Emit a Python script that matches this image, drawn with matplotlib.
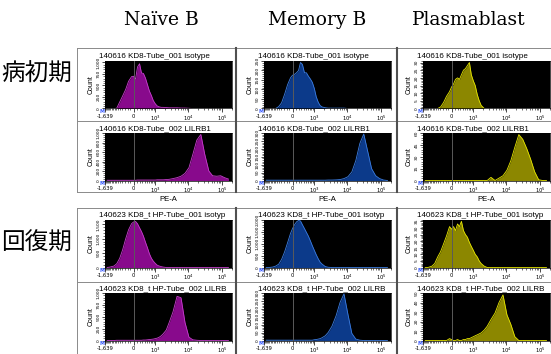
import numpy as np
import matplotlib
matplotlib.use('Agg')
import matplotlib.pyplot as plt
from matplotlib.lines import Line2D
from matplotlib.ticker import FixedLocator, FuncFormatter, MultipleLocator, AutoMinorLocator

# PE-A channel positions shared by every histogram
pe_a = [-1400, -1150, -850, -675, -520, -390, -270, -165, -65, 0, 65, 130, 200, 270,
        345, 430, 520, 620, 735, 855, 1000, 1150, 1340, 1540, 1770, 2200, 2700, 3500,
        4650, 6100, 8000, 10500, 13700, 18000, 23700, 31000, 41000, 53000, 70000,
        92000, 120000, 157000]

# 病初期 (140616)
naive_iso_1 = [0, 0, 0, 5, 140, 270, 410, 590, 690, 700, 640, 900, 970, 770, 760, 660,
               520, 380, 280, 170, 100, 55, 35, 25, 25, 20, 15, 15, 15, 10, 10, 5,
               0, 0, 0, 0, 0, 0, 0, 0, 0, 0]
naive_lilrb1_1 = [5, 5, 5, 5, 5, 5, 5, 5, 5, 5, 5, 10, 10, 10, 10, 10, 10, 10, 10, 10,
                  10, 15, 15, 15, 15, 20, 25, 40, 60, 90, 150, 270, 550, 850, 970, 550,
                  200, 100, 90, 100, 60, 30]
memory_iso_1 = [0, 0, 0, 0, 10, 30, 75, 125, 162, 175, 180, 188, 200, 242, 232, 188,
                188, 170, 155, 138, 105, 62, 32, 15, 8, 4, 2, 2, 2, 2, 2,
                0, 0, 0, 0, 0, 0, 0, 0, 0, 0, 0]
memory_lilrb1_1 = [2, 2, 2, 2, 2, 2, 2, 2, 2, 2, 2, 2, 2, 2, 2, 2, 2, 2, 2, 2, 2, 2,
                   2, 2, 2, 2, 3, 3, 4, 6, 12, 24, 54, 126, 234, 294, 180, 75, 30,
                   12, 3, 0]
plasma_iso_1 = [0, 0, 0, 0, 0, 1, 4, 8, 11, 14, 16, 19, 20, 19, 22, 25, 26, 28, 30,
                22, 18, 15, 9, 5, 2, 0, 0, 0, 0, 0, 0, 0, 0, 0, 0, 0, 0, 0, 0, 0, 0, 0]
plasma_lilrb1_1 = [0, 0, 0, 0, 0, 0, 0, 0, 0, 0, 0, 0, 0, 0, 0, 0, 0, 0, 0, 0, 0, 0,
                   0, 0, 0, 0, 0, 4, 0, 3, 6, 13, 25, 42, 58, 52, 40, 27, 11, 1, 0, 0]

# 回復期 (140623)
naive_iso_2 = [0, 15, 50, 130, 320, 610, 990, 1310, 1520, 1580, 1600, 1520, 1380, 1250,
               1090, 880, 690, 480, 320, 220, 140, 80, 50, 30, 15,
               0, 0, 0, 0, 0, 0, 0, 0, 0, 0, 0, 0, 0, 0, 0, 0, 0]
naive_lilrb1_2 = [0, 0, 0, 5, 5, 5, 5, 5, 5, 5, 5, 5, 5, 5, 10, 10, 15, 20, 25, 30, 40,
                  50, 70, 100, 140, 220, 380, 600, 930, 900, 380, 70, 15, 5,
                  0, 0, 0, 0, 0, 0, 0, 0]
memory_iso_2 = [0, 0, 20, 60, 140, 340, 660, 1040, 1440, 1640, 1800, 1920, 1980, 1960,
                1800, 1640, 1480, 1320, 1120, 920, 720, 540, 360, 220, 140, 40, 10,
                0, 0, 0, 0, 0, 0, 0, 0, 0, 0, 0, 0, 0, 0, 0]
memory_lilrb1_2 = [2, 2, 2, 2, 2, 2, 2, 2, 2, 2, 2, 2, 2, 2, 2, 2, 2, 2, 2, 2, 5, 6, 9,
                   12, 18, 30, 51, 90, 156, 240, 295, 165, 45, 9, 2, 0, 0, 0, 0, 0, 0, 0]
plasma_iso_2 = [0, 0, 1, 3, 8, 12, 18, 24, 31, 29, 31, 28, 33, 31, 35, 28, 25, 23, 19,
                16, 13, 10, 8, 5, 3, 1, 0, 0, 0, 0, 0, 0, 0, 0, 0, 0, 0, 0, 0, 0, 0, 0]
plasma_lilrb1_2 = [0, 0, 0, 0, 0, 0, 0, 0, 2, 1, 0, 0, 1, 0, 0, 1, 1, 2, 2, 3, 4, 5, 6,
                   7, 8, 11, 15, 22, 29, 40, 48, 27, 17, 4, 0, 0, 0, 0, 0, 0, 0, 0]

columns = ['Naïve B', 'Memory B', 'Plasmablast']
phases = ['病初期', '回復期']
row_titles = ['140616 KD8-Tube_001 isotype', '140616 KD8-Tube_002 LILRB1',
              '140623 KD8_t HP-Tube_001 isotyp', '140623 KD8_t HP-Tube_002 LILRB']

counts = [[naive_iso_1, memory_iso_1, plasma_iso_1],
          [naive_lilrb1_1, memory_lilrb1_1, plasma_lilrb1_1],
          [naive_iso_2, memory_iso_2, plasma_iso_2],
          [naive_lilrb1_2, memory_lilrb1_2, plasma_lilrb1_2]]
y_top = [[1030, 250, 31], [1000, 300, 60], [1650, 2000, 36], [1000, 300, 50]]
y_step = [[250, 50, 5], [200, 50, 15], [500, 500, 5], [250, 50, 10]]

fills = ['#880a8c', '#0c3a8a', '#8c8700']
edges = ['#c63fcc', '#3c7de0', '#e6e600']

W, H = 551, 354
fig = plt.figure(figsize=(W / 100, H / 100), dpi=100, facecolor='white')


def fwd(x):
    return np.arcsinh(np.asarray(x, dtype=float) / 474.0)


def inv(y):
    return 474.0 * np.sinh(np.asarray(y, dtype=float))


col_left = [105, 264, 423]
row_top = [61, 133, 220, 293]
ax_w, ax_h = 127, 47.5

minor_x = list(range(-1600, 0, 100)) + list(range(100, 1000, 100)) + \
    list(range(2000, 10000, 1000)) + list(range(20000, 100000, 10000)) + [200000]

for r in range(4):
    for c in range(3):
        ax = fig.add_axes([col_left[c] / W, 1 - (row_top[r] + ax_h) / H, ax_w / W, ax_h / H])
        ax.set_facecolor('black')
        ax.set_xscale('function', functions=(fwd, inv))
        ax.set_xlim(-1639, 200000)
        ax.set_ylim(0, y_top[r][c])
        ax.fill_between(pe_a, counts[r][c], color=fills[c], lw=0, zorder=2)
        ax.plot(pe_a, counts[r][c], color=edges[c], lw=0.6, zorder=3)
        ax.axvline(0, color='#5a5a5a', lw=0.7, zorder=4)

        ax.xaxis.set_major_locator(FixedLocator([-1639, 0, 1000, 10000, 100000]))
        ax.set_xticklabels(['-1,639', '0', '$10^3$', '$10^4$', '$10^5$'])
        ax.xaxis.set_minor_locator(FixedLocator(minor_x))
        ax.yaxis.set_major_locator(MultipleLocator(y_step[r][c]))
        ax.yaxis.set_minor_locator(AutoMinorLocator(5))
        ax.yaxis.set_major_formatter(FuncFormatter(lambda v, p: f'{v:,.0f}'))
        ax.tick_params(axis='x', which='major', length=3, width=0.5, labelsize=3.8, pad=1)
        ax.tick_params(axis='x', which='minor', length=1.6, width=0.4)
        ax.tick_params(axis='y', which='major', length=2.5, width=0.5, labelsize=3.2,
                       pad=0.5, labelrotation=90)
        ax.tick_params(axis='y', which='minor', length=1.3, width=0.4)
        for lab in ax.get_yticklabels():
            lab.set_va('center')
        ax.set_ylabel('Count', fontsize=5, labelpad=1.5, family='Liberation Sans')
        if r % 2 == 1:
            ax.set_xlabel('PE-A', fontsize=5.5, labelpad=0.5, family='Liberation Sans')
        ax.text(-0.045, 1.02, row_titles[r], transform=ax.transAxes, fontsize=5.8,
                family='Liberation Sans', ha='left', va='bottom', clip_on=False)
        ax.text(-0.02, -0.07, 'M', transform=ax.transAxes, fontsize=3.5, color='#3a5cff',
                ha='center', va='center', fontweight='bold')
        for s in ax.spines.values():
            s.set_linewidth(0.5)


def hline(y, x0, x1, lw=0.7, color='#8a8a8a'):
    fig.add_artist(Line2D([x0 / W, x1 / W], [1 - y / H, 1 - y / H], lw=lw, color=color))


def vline(x, y0, y1, lw=0.7, color='#8a8a8a'):
    fig.add_artist(Line2D([x / W, x / W], [1 - y0 / H, 1 - y1 / H], lw=lw, color=color))


for top, mid, bot in [(48, 121, 192), (208, 282, 356)]:
    hline(top, 77, 551)
    hline(mid, 77, 551)
    hline(bot, 77, 551)
    vline(77, top, bot)
    vline(235.5, top, bot, lw=1.5, color='#505050')
    vline(397, top, bot, lw=1.5, color='#505050')

for x, name in zip([161, 317, 469], columns):
    fig.text(x / W, 1 - 20 / H, name, fontsize=13.5, family='DejaVu Serif',
             ha='center', va='center')

for y, name in zip([74, 243], phases):
    fig.text(1 / W, 1 - y / H, name, fontsize=17, family='Noto Sans CJK JP',
             ha='left', va='center')

fig.savefig('out.png', dpi=100, facecolor='white')
